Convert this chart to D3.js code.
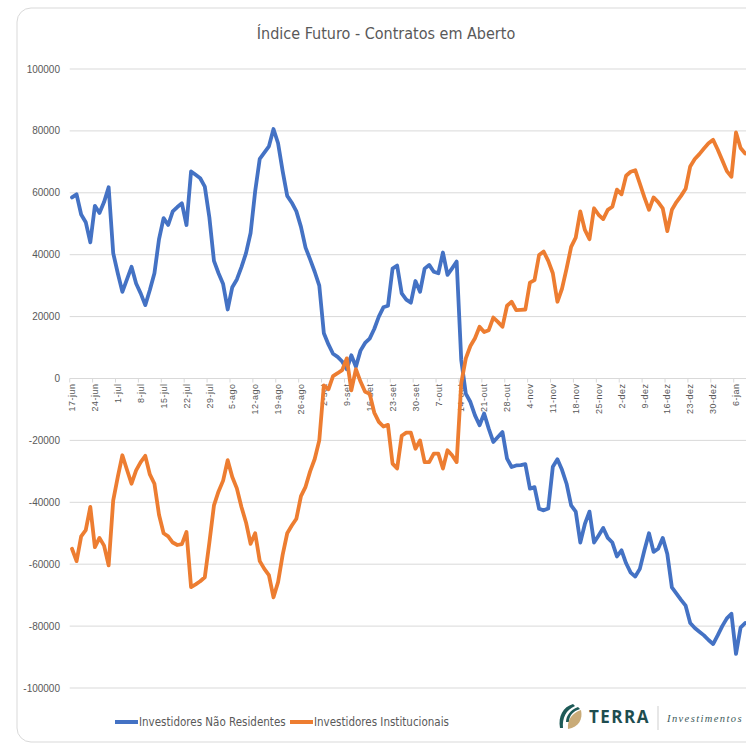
<!DOCTYPE html>
<html lang="pt-BR">
<head>
<meta charset="UTF-8">
<title>Índice Futuro - Contratos em Aberto</title>
<style>
  body{ margin:0; background:#fff; }
  text{ fill:#595959; }
  .narrow{ font-family:"Liberation Sans Narrow","DejaVu Sans Condensed",sans-serif; }
  .tick{ font-family:"Liberation Sans",sans-serif; }
  .linha{ fill:none; stroke-width:3.8px; stroke-linejoin:round; stroke-linecap:round; }
</style>
<script src="https://d3js.org/d3.v7.min.js"></script>
</head>
<body>
<div class="canvas"></div>
<script>
// pregões de 17-jun-2019 a 8-jan-2020, um valor por dia útil
const rotulosX = ['17-jun','24-jun','1-jul','8-jul','15-jul','22-jul','29-jul','5-ago','12-ago','19-ago',
  '26-ago','2-set','9-set','16-set','23-set','30-set','7-out','14-out','21-out','28-out',
  '4-nov','11-nov','18-nov','25-nov','2-dez','9-dez','16-dez','23-dez','30-dez','6-jan'];

const naoResidentes = [
  58500,59500,53000,50500,44000, 55800,53500,57000,61800,40500,
  34000,28000,32000,36100,30700, 27500,23700,28600,34000,45000,
  51800,49600,54000,55400,56600, 49600,66900,65800,64700,62000,
  52000,38000,34000,30500,22300, 29500,32000,36000,40500,47000,
  60500,71000,73000,75000,80600, 76000,67000,59000,56800,54000,
  49000,42300,38500,34500,30000, 14600,11000,8000,7000,5500,
  3000,7500,3800,9000,11500, 12900,16000,20000,23000,23500,
  35500,36500,27500,25500,24500, 31500,28000,35500,36700,34500,
  34000,40700,33500,35600,37800, 6000,-4900,-7600,-11900,-15100,
  -11300,-16200,-20500,-18900,-17300, -25900,-28600,-28100,-28000,-27700,
  -35600,-35100,-42100,-42600,-42000, -28500,-26100,-29500,-34000,-41000,
  -43000,-53000,-47000,-43000,-53000, -50700,-48300,-51500,-53000,-57500,
  -55500,-59700,-62700,-64000,-61500, -55500,-50000,-56000,-55000,-51500,
  -56700,-67500,-69500,-71500,-73400, -79000,-80600,-81800,-83000,-84500,
  -85800,-83000,-80000,-77500,-76000, -89000,-80500,-79000
];

const institucionais = [
  -55000,-59000,-51000,-49000,-41500, -54500,-51500,-54000,-60400,-39400,
  -31800,-24800,-29500,-34000,-29700, -27000,-25000,-31000,-34000,-44000,
  -50000,-51000,-53000,-53800,-53500, -49600,-67400,-66500,-65500,-64200,
  -53000,-41000,-36500,-33000,-26400, -31800,-35500,-41500,-46500,-53400,
  -50000,-59000,-61500,-63500,-70700, -65800,-57000,-50000,-47500,-45300,
  -38000,-35000,-30000,-26000,-20000, -2200,-3500,800,1700,2700,
  6500,-3800,3000,-1000,-4300, -4900,-11000,-14000,-15500,-15000,
  -27500,-29100,-18500,-17500,-17500, -22700,-20000,-27000,-27000,-24300,
  -24300,-29100,-23200,-24800,-27000, -1500,6500,10500,13000,16700,
  15000,15600,19700,18300,16700, 23500,24800,22100,22200,22300,
  31000,31800,39900,41000,38000, 34000,24800,29000,35500,42500,
  45500,54000,48000,45000,55000, 52900,51500,54500,55500,61000,
  59500,65500,66800,67300,63000, 58500,54500,58500,57000,55000,
  47600,54500,57000,59000,61300, 68500,70900,72500,74300,76000,
  77100,74000,70500,67000,65200, 79500,74500,72700
];

const ticksY = d3.range(-100000, 100001, 20000);
const series = [
  {nome:'Investidores Não Residentes', cor:'#4472c4', valores:naoResidentes},
  {nome:'Investidores Institucionais', cor:'#ed7d31', valores:institucionais}
];

const W = 746, H = 746;
const svg = d3.select('.canvas').append('svg')
    .attr('width', W).attr('height', H);

// moldura do gráfico (cortada à direita como no original)
svg.append('rect')
    .attr('x', 17).attr('y', 8).attr('width', 780).attr('height', 734)
    .attr('rx', 14).attr('fill', '#fff').attr('stroke', '#d9d9d9');

svg.append('text').attr('class', 'narrow')
    .attr('x', 386).attr('y', 39)
    .attr('text-anchor', 'middle')
    .style('font-size', '16px')
    .text('Índice Futuro - Contratos em Aberto');

const x = d3.scaleLinear().domain([0, 145]).range([72, 736]);
const y = d3.scaleLinear().domain([-100000, 100000]).range([688, 69]);

const xIni = x(-0.5);

// grade horizontal
svg.append('g').selectAll('line')
    .data(ticksY).enter().append('line')
    .attr('x1', xIni).attr('x2', W)
    .attr('y1', d => y(d)).attr('y2', d => y(d))
    .attr('stroke', '#d9d9d9').attr('stroke-width', 1);

// rótulos do eixo y
svg.append('g').selectAll('text')
    .data(ticksY).enter().append('text')
    .attr('class', 'tick')
    .attr('x', 60).attr('y', d => y(d))
    .attr('dy', '0.35em')
    .attr('text-anchor', 'end')
    .style('font-size', '10px')
    .text(d => d);

// marcas e rótulos do eixo x (no zero)
const y0 = y(0);
svg.append('g').selectAll('line')
    .data(rotulosX).enter().append('line')
    .attr('x1', (d, i) => x(i * 5 - 0.5)).attr('x2', (d, i) => x(i * 5 - 0.5))
    .attr('y1', y0).attr('y2', y0 + 4)
    .attr('stroke', '#d9d9d9');

svg.append('g').selectAll('text')
    .data(rotulosX).enter().append('text')
    .attr('class', 'tick')
    .attr('transform', (d, i) => `translate(${x(i * 5)},${y0 + 5}) rotate(-90)`)
    .attr('text-anchor', 'end')
    .attr('dy', '0.35em')
    .style('font-size', '9px')
    .style('letter-spacing', '0.5px')
    .text(d => d);

// linhas
const linha = d3.line()
    .x((d, i) => x(i))
    .y(d => y(d));

svg.append('g').selectAll('path')
    .data(series).enter().append('path')
    .attr('class', 'linha')
    .attr('stroke', d => d.cor)
    .attr('d', d => linha(d.valores));

// legenda
const leg = svg.append('g').selectAll('g')
    .data(series).enter().append('g')
    .attr('transform', (d, i) => `translate(${i === 0 ? 115 : 290},722)`);
leg.append('line')
    .attr('x1', 0).attr('x2', 23).attr('y1', 0).attr('y2', 0)
    .attr('stroke', d => d.cor).attr('stroke-width', 4);
leg.append('text').attr('class', 'narrow')
    .attr('x', 24).attr('y', 0).attr('dy', '0.35em')
    .style('font-size', '11.5px')
    .text(d => d.nome);

// logotipo
const logo = svg.append('g');
logo.append('path')
    .attr('d', 'M573,704 C563,707 558,716 560,728 L563,728 C562,718 566,710 575,706 Z')
    .attr('fill', '#1e5a57');
logo.append('path')
    .attr('d', 'M578,707 C570,710 566,716 566,722 L569,722 C569,716 573,711 580,709 Z')
    .attr('fill', '#1e5a57');
logo.append('path')
    .attr('d', 'M568,729 C567,720 572,713 581,710 C583,719 579,727 568,729 Z')
    .attr('fill', '#c9ab78');
logo.append('text')
    .attr('x', 589).attr('y', 723)
    .style('font-family', '"Open Sans",sans-serif')
    .style('font-weight', 'bold')
    .style('font-size', '17px')
    .style('letter-spacing', '1.5px')
    .style('fill', '#1e4d4f')
    .text('TERRA');
logo.append('line')
    .attr('x1', 658).attr('x2', 658).attr('y1', 706).attr('y2', 730)
    .attr('stroke', '#cfcfcf');
logo.append('text')
    .attr('x', 667).attr('y', 722)
    .style('font-family', '"Liberation Serif",serif')
    .style('font-style', 'italic')
    .style('font-size', '10.5px')
    .style('letter-spacing', '1.4px')
    .style('fill', '#3d5a5b')
    .text('Investimentos');
</script>
</body>
</html>
